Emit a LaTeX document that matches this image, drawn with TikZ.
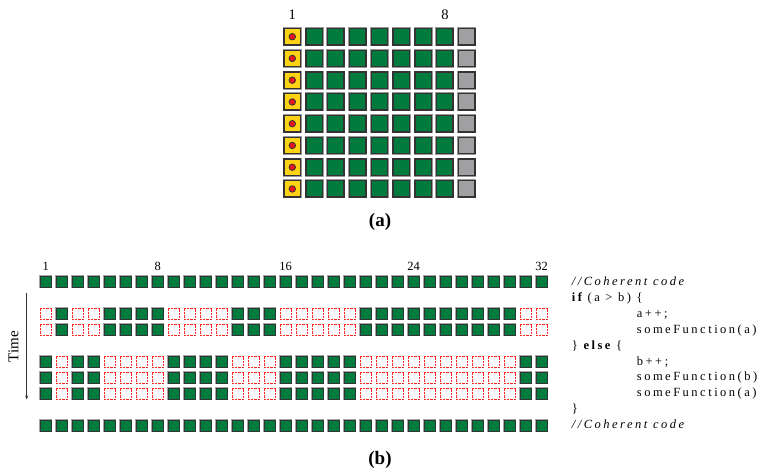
\documentclass[tikz,border=0pt]{standalone}
\usepackage{fontspec}
\setmainfont{Liberation Serif}
\newfontfamily\codefont[LetterSpace=20]{Liberation Serif}
\usetikzlibrary{arrows.meta}

\definecolor{cellgreen}{RGB}{0,122,61}
\definecolor{cellyellow}{RGB}{255,210,20}
\definecolor{cellgray}{RGB}{160,160,162}
\definecolor{dotred}{RGB}{230,20,30}

% lanes of the "if" branch (1 = active, 0 = masked)
\def\ifmask{0,1,0,0,1,1,1,1,0,0,0,0,1,1,1,0,0,0,0,0,1,1,1,1,1,1,1,1,1,1,0,0}

\begin{document}
\begin{tikzpicture}[x=1pt,y=-1pt,>={Stealth[length=4pt,width=3pt]},
    bigcell/.style={minimum size=16.4pt, inner sep=0pt, line width=1.4pt,
        draw=black!80, preaction={draw=black!40, line width=2.6pt}},
    lane/.style={minimum size=11pt, inner sep=0pt, line width=1.1pt,
        draw=black!80, fill=cellgreen, preaction={draw=black!35, line width=2pt}},
    masked/.style={minimum size=11.4pt, inner sep=0pt, line width=0.9pt,
        draw=red!85, dash pattern=on 2.2pt off 1pt},
    reddot/.style={circle, fill=dotred, draw=black!80, line width=0.8pt,
        minimum size=6.5pt, inner sep=0pt},
    idx/.style={font=\fontsize{14.5}{16}\selectfont, inner sep=0pt},
    lanenum/.style={font=\fontsize{12.5}{14}\selectfont, inner sep=0pt},
    caption/.style={font=\fontsize{19}{21}\selectfont\bfseries},
    code/.style={font=\fontsize{12.5}{14}\codefont, inner sep=0pt, anchor=mid west}]

  \useasboundingbox (0,0) rectangle (762,469);

  % ---- (a): eight rows of nine cells ----
  \foreach \j in {1,...,8} {
    \node[bigcell, fill=cellyellow] (a-\j-1) at (292.3,{36.7+(\j-1)*21.75}) {};
    \node[reddot] (dot-\j) at (a-\j-1) {};
    \foreach \i in {2,...,8}
      \node[bigcell, fill=cellgreen] (a-\j-\i) at ({292.3+(\i-1)*21.8},{36.7+(\j-1)*21.75}) {};
    \node[bigcell, fill=cellgray] (a-\j-9) at (466.7,{36.7+(\j-1)*21.75}) {};
  }
  \node[idx] (a-one) at (292.3,15) {1};
  \node[idx] (a-eight) at (444.9,15) {8};
  \node[caption] (cap-a) at (380,222) {(a)};

  % ---- (b): coherent rows ----
  \foreach \c in {1,...,32} {
    \node[lane] (top-\c) at ({45.7+(\c-1)*16},281.7) {};
    \node[lane] (bot-\c) at ({45.7+(\c-1)*16},425.7) {};
  }
  \foreach \n in {1,8,16,24,32}
    \node[lanenum] (num-\n) at ({45.7+(\n-1)*16},266.7) {\n};

  % ---- (b): divergent rows, if branch then else branch ----
  \foreach \v [count=\c] in \ifmask {
    \foreach \r/\y in {1/313.7,2/329.7} {
      \ifnum\v=1
        \node[lane] (if-\r-\c) at ({45.7+(\c-1)*16},\y) {};
      \else
        \node[masked] (if-\r-\c) at ({45.7+(\c-1)*16},\y) {};
      \fi
    }
    \foreach \r/\y in {1/361.7,2/377.7,3/393.7} {
      \ifnum\v=0
        \node[lane] (else-\r-\c) at ({45.7+(\c-1)*16},\y) {};
      \else
        \node[masked] (else-\r-\c) at ({45.7+(\c-1)*16},\y) {};
      \fi
    }
  }

  % ---- time axis ----
  \coordinate (t0) at (26.7,293);
  \coordinate (t1) at (26.7,399.5);
  \draw[->, line width=0.7pt, black!80] (t0) -- (t1);
  \node[rotate=90, font=\fontsize{15}{17}\selectfont] (time) at (13.5,346.7) {Time};

  % ---- the code beside the lanes ----
  \node[code] (l1) at (571.7,283.3) {\itshape //Coherent code};
  \node[code] (l2) at (571.7,299.3) {\bfseries if\mdseries\ (a > b) \{};
  \node[code] (l3) at (636.7,315.0) {a++;};
  \node[code] (l4) at (636.7,331.0) {someFunction(a)};
  \node[code] (l5) at (571.7,346.7) {\} \bfseries else \mdseries\{};
  \node[code] (l6) at (636.7,363.3) {b++;};
  \node[code] (l7) at (636.7,378.5) {someFunction(b)};
  \node[code] (l8) at (636.7,394.0) {someFunction(a)};
  \node[code] (l9) at (571.7,410.0) {\}};
  \node[code] (l10) at (571.7,426.0) {\itshape //Coherent code};

  \node[caption] (cap-b) at (380,460) {(b)};

\end{tikzpicture}
\end{document}
